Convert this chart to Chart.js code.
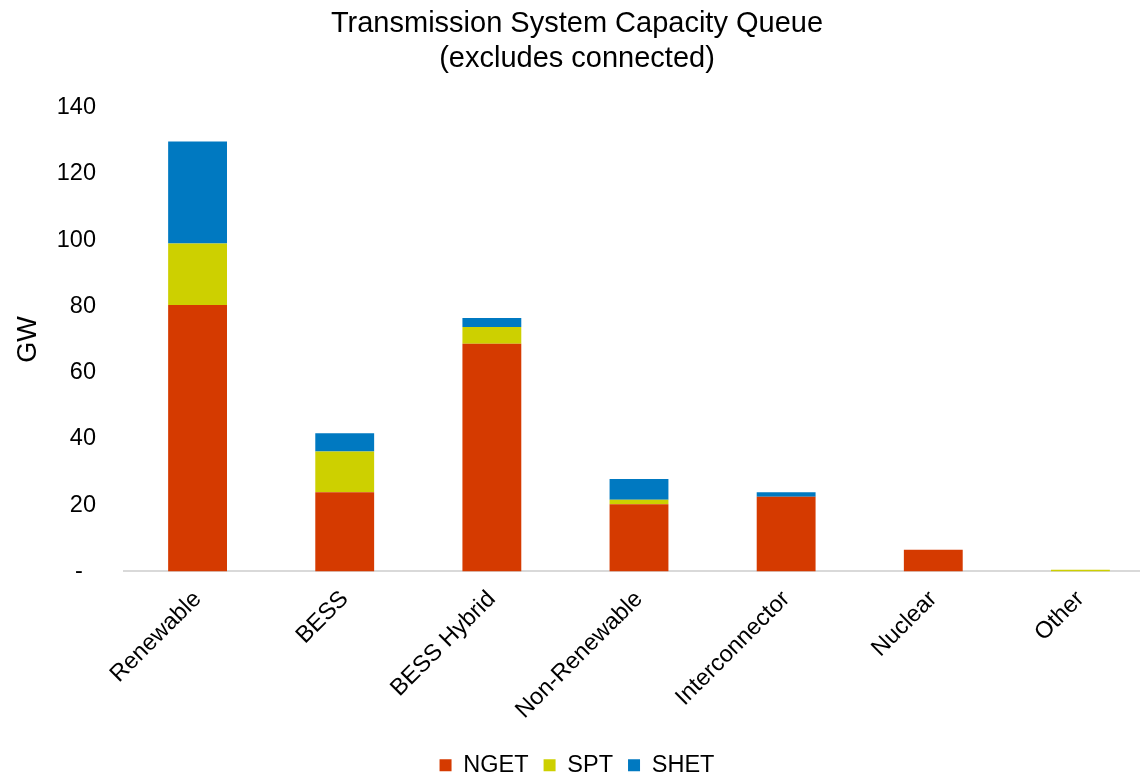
<!DOCTYPE html>
<html><head><meta charset="utf-8">
<script src="https://cdn.jsdelivr.net/npm/chart.js@4"></script>
<style>html,body{margin:0;padding:0;background:#fff;overflow:hidden;width:1140px;height:778px}
#wrap{width:1154px;height:778px;position:relative}</style>
</head><body><div id="wrap"><canvas id="c"></canvas></div>
<script>
const categories = ["Renewable","BESS","BESS Hybrid","Non-Renewable","Interconnector","Nuclear","Other"];
const ngetValues = [80.4, 23.9, 68.7, 20.3, 22.5, 6.5, 0.0];
const sptValues  = [18.6, 12.3, 5.1, 1.3, 0.0, 0.0, 0.5];
const shetValues = [30.8, 5.5, 2.7, 6.3, 1.4, 0.0, 0.0];
const seriesNames = ["NGET","SPT","SHET"];
const yTicks = [0,20,40,60,80,100,120,140];
const titleLines = ["Transmission System Capacity Queue","(excludes connected)"];

const font = "'Liberation Sans', Arial, sans-serif";
Chart.defaults.font.family = font;
Chart.defaults.color = '#000';
const fs = 23.5;

new Chart(document.getElementById('c'), {
  type: 'bar',
  data: {
    labels: categories,
    datasets: [
      {label: seriesNames[0], data: ngetValues, backgroundColor: '#D53A00'},
      {label: seriesNames[1], data: sptValues, backgroundColor: '#CDD000'},
      {label: seriesNames[2], data: shetValues, backgroundColor: '#0079C1'}
    ]
  },
  options: {
    responsive: true, maintainAspectRatio: false, animation: false,
    layout: {padding: {left: 0, right: 0, top: 7, bottom: -9}},
    datasets: {bar: {categoryPercentage: 1.0, barPercentage: 0.4}},
    plugins: {
      title: {display: true, text: titleLines, font: {size: 29, weight: 'normal'}, color: '#000', padding: {top: 0, bottom: 31}, lineHeight: 1.17},
      legend: {position: 'bottom', labels: {boxWidth: 12, boxHeight: 12, font: {size: fs}, padding: 15, color: '#000'}},
      tooltip: {enabled: false}
    },
    scales: {
      x: {
        stacked: true,
        grid: {display: false, drawTicks: false},
        border: {display: true, color: '#d9d9d9', width: 2},
        ticks: {font: {size: fs}, maxRotation: 45, minRotation: 45, padding: 14, color: '#000'}
      },
      y: {
        stacked: true, min: 0, max: 140,
        afterBuildTicks: (s) => { s.ticks = yTicks.map(v => ({value: v})); },
        afterFit: (s) => { s.width = 124; },
        grid: {display: false, drawTicks: false},
        border: {display: false},
        title: {display: true, text: 'GW', font: {size: 27}, color: '#000', padding: {top: 12, bottom: 0}},
        ticks: {font: {size: fs}, padding: 28, color: '#000', callback: (v) => v === 0 ? '-  ' : String(v)}
      }
    }
  }
});
</script></body></html>
